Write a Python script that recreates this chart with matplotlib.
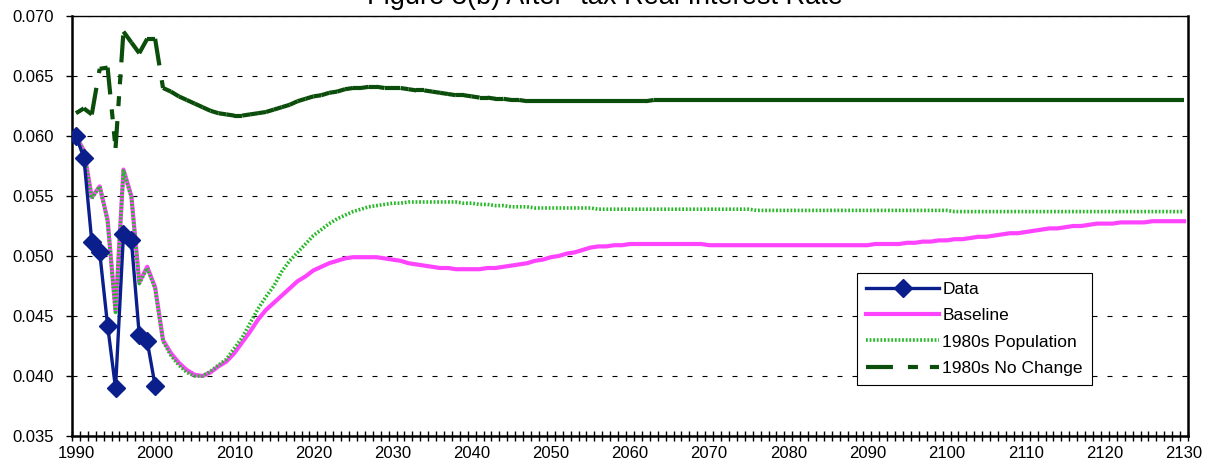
import numpy as np
import matplotlib
matplotlib.use('Agg')
import matplotlib.pyplot as plt
from matplotlib.lines import Line2D

plt.rcParams['font.family'] = ['Liberation Sans', 'DejaVu Sans']
plt.rcParams['lines.scale_dashes'] = False

# years on the category axis
years = list(range(1990, 2131))
tick_years = list(range(1990, 2131, 10))

# observed data 1990-2000
data_years = list(range(1990, 2001))
data_vals = [0.0600, 0.0582, 0.0512, 0.0503, 0.0442, 0.0390, 0.0518, 0.0513,
             0.0434, 0.0429, 0.0392]

baseline = [
    0.0600, 0.0588, 0.0549, 0.0558, 0.0530, 0.0454, 0.0572, 0.0550, 0.0478, 0.0491,  # 1990-1999
    0.0474, 0.0430, 0.0419, 0.0411, 0.0405, 0.0401, 0.0400, 0.0403, 0.0408, 0.0412,  # 2000-2009
    0.0419, 0.0428, 0.0437, 0.0447, 0.0455, 0.0461, 0.0467, 0.0473, 0.0479, 0.0483,  # 2010-2019
    0.0488, 0.0491, 0.0494, 0.0496, 0.0498, 0.0499, 0.0499, 0.0499, 0.0499, 0.0498,  # 2020-2029
    0.0497, 0.0496, 0.0494, 0.0493, 0.0492, 0.0491, 0.0490, 0.0490, 0.0489, 0.0489,  # 2030-2039
    0.0489, 0.0489, 0.0490, 0.0490, 0.0491, 0.0492, 0.0493, 0.0494, 0.0496, 0.0497,  # 2040-2049
    0.0499, 0.0500, 0.0502, 0.0503, 0.0505, 0.0507, 0.0508, 0.0508, 0.0509, 0.0509,  # 2050-2059
    0.0510, 0.0510, 0.0510, 0.0510, 0.0510, 0.0510, 0.0510, 0.0510, 0.0510, 0.0510,  # 2060-2069
    0.0509, 0.0509, 0.0509, 0.0509, 0.0509, 0.0509, 0.0509, 0.0509, 0.0509, 0.0509,  # 2070-2079
    0.0509, 0.0509, 0.0509, 0.0509, 0.0509, 0.0509, 0.0509, 0.0509, 0.0509, 0.0509,  # 2080-2089
    0.0509, 0.0510, 0.0510, 0.0510, 0.0510, 0.0511, 0.0511, 0.0512, 0.0512, 0.0513,  # 2090-2099
    0.0513, 0.0514, 0.0514, 0.0515, 0.0516, 0.0516, 0.0517, 0.0518, 0.0519, 0.0519,  # 2100-2109
    0.0520, 0.0521, 0.0522, 0.0523, 0.0523, 0.0524, 0.0525, 0.0525, 0.0526, 0.0527,  # 2110-2119
    0.0527, 0.0527, 0.0528, 0.0528, 0.0528, 0.0528, 0.0529, 0.0529, 0.0529, 0.0529,  # 2120-2129
    0.0529,                                                                          # 2130
]

pop_1980s = [
    0.0600, 0.0587, 0.0548, 0.0558, 0.0529, 0.0453, 0.0571, 0.0549, 0.0477, 0.0490,  # 1990-1999
    0.0473, 0.0429, 0.0417, 0.0409, 0.0403, 0.0400, 0.0400, 0.0404, 0.0409, 0.0414,  # 2000-2009
    0.0423, 0.0432, 0.0444, 0.0456, 0.0466, 0.0475, 0.0487, 0.0496, 0.0503, 0.0510,  # 2010-2019
    0.0517, 0.0522, 0.0527, 0.0531, 0.0534, 0.0537, 0.0539, 0.0541, 0.0542, 0.0543,  # 2020-2029
    0.0544, 0.0544, 0.0545, 0.0545, 0.0545, 0.0545, 0.0545, 0.0545, 0.0545, 0.0544,  # 2030-2039
    0.0544, 0.0543, 0.0543, 0.0542, 0.0542, 0.0541, 0.0541, 0.0541, 0.0540, 0.0540,  # 2040-2049
    0.0540, 0.0540, 0.0540, 0.0540, 0.0540, 0.0540, 0.0539, 0.0539, 0.0539, 0.0539,  # 2050-2059
    0.0539, 0.0539, 0.0539, 0.0539, 0.0539, 0.0539, 0.0539, 0.0539, 0.0539, 0.0539,  # 2060-2069
    0.0539, 0.0539, 0.0539, 0.0539, 0.0539, 0.0539, 0.0538, 0.0538, 0.0538, 0.0538,  # 2070-2079
    0.0538, 0.0538, 0.0538, 0.0538, 0.0538, 0.0538, 0.0538, 0.0538, 0.0538, 0.0538,  # 2080-2089
    0.0538, 0.0538, 0.0538, 0.0538, 0.0538, 0.0538, 0.0538, 0.0538, 0.0538, 0.0538,  # 2090-2099
    0.0538, 0.0537, 0.0537, 0.0537, 0.0537, 0.0537, 0.0537, 0.0537, 0.0537, 0.0537,  # 2100-2109
    0.0537, 0.0537, 0.0537, 0.0537, 0.0537, 0.0537, 0.0537, 0.0537, 0.0537, 0.0537,  # 2110-2119
    0.0537, 0.0537, 0.0537, 0.0537, 0.0537, 0.0537, 0.0537, 0.0537, 0.0537, 0.0537,  # 2120-2129
    0.0537,                                                                          # 2130
]

no_change_1980s = [
    0.0619, 0.0623, 0.0618, 0.0656, 0.0657, 0.0590, 0.0687, 0.0678, 0.0669, 0.0681,  # 1990-1999
    0.0681, 0.0640, 0.0637, 0.0633, 0.0630, 0.0627, 0.0624, 0.0621, 0.0619, 0.0618,  # 2000-2009
    0.0617, 0.0617, 0.0618, 0.0619, 0.0620, 0.0622, 0.0624, 0.0626, 0.0629, 0.0631,  # 2010-2019
    0.0633, 0.0634, 0.0636, 0.0637, 0.0639, 0.0640, 0.0640, 0.0641, 0.0641, 0.0640,  # 2020-2029
    0.0640, 0.0640, 0.0639, 0.0638, 0.0638, 0.0637, 0.0636, 0.0635, 0.0634, 0.0634,  # 2030-2039
    0.0633, 0.0632, 0.0632, 0.0631, 0.0631, 0.0630, 0.0630, 0.0629, 0.0629, 0.0629,  # 2040-2049
    0.0629, 0.0629, 0.0629, 0.0629, 0.0629, 0.0629, 0.0629, 0.0629, 0.0629, 0.0629,  # 2050-2059
    0.0629, 0.0629, 0.0629, 0.0630, 0.0630, 0.0630, 0.0630, 0.0630, 0.0630, 0.0630,  # 2060-2069
    0.0630, 0.0630, 0.0630, 0.0630, 0.0630, 0.0630, 0.0630, 0.0630, 0.0630, 0.0630,  # 2070-2079
    0.0630, 0.0630, 0.0630, 0.0630, 0.0630, 0.0630, 0.0630, 0.0630, 0.0630, 0.0630,  # 2080-2089
    0.0630, 0.0630, 0.0630, 0.0630, 0.0630, 0.0630, 0.0630, 0.0630, 0.0630, 0.0630,  # 2090-2099
    0.0630, 0.0630, 0.0630, 0.0630, 0.0630, 0.0630, 0.0630, 0.0630, 0.0630, 0.0630,  # 2100-2109
    0.0630, 0.0630, 0.0630, 0.0630, 0.0630, 0.0630, 0.0630, 0.0630, 0.0630, 0.0630,  # 2110-2119
    0.0630, 0.0630, 0.0630, 0.0630, 0.0630, 0.0630, 0.0630, 0.0630, 0.0630, 0.0630,  # 2120-2129
    0.0630,                                                                          # 2130
]

navy = '#0A1E8C'
pink = '#FF44FF'
green = '#27B827'
dkgreen = '#0B4D0B'
long_dash = (0, (19.4, 10.8, 7.2, 8.6, 7.2, 8.6))
dots = (0, (1.3, 1.3))

fig = plt.figure(figsize=(12.09, 4.75), dpi=100)
ax = fig.add_axes([72 / 1209, 39 / 475, 1116 / 1209, 420 / 475])

ax.plot(years, baseline, color=pink, lw=3.0, zorder=3)
ax.plot(years, pop_1980s, color=green, lw=2.6, ls=dots, zorder=4)

# Excel restarts the dash pattern on every segment, so draw them one by one
for i in range(len(years) - 1):
    ax.plot(years[i:i + 2], no_change_1980s[i:i + 2], color=dkgreen, lw=3.0,
            ls=long_dash, zorder=5)

ax.plot(data_years, data_vals, color=navy, lw=2.4, marker='D', markersize=9,
        markerfacecolor=navy, markeredgecolor=navy, zorder=6)

# axes
ax.set_xlim(1989.5, 2130.5)
ax.set_ylim(0.035, 0.070)
ax.set_xticks(tick_years)
ax.set_xticklabels([str(y) for y in tick_years])
ax.set_xticks(np.arange(1989.5, 2131, 1), minor=True)
ax.tick_params(axis='x', which='major', length=0, pad=7, labelsize=12)
ax.tick_params(axis='x', which='minor', direction='inout', length=6.5, width=1)
ax.set_yticks(np.arange(0.035, 0.0701, 0.005))
ax.set_yticklabels(['%.3f' % v for v in np.arange(0.035, 0.0701, 0.005)])
ax.tick_params(axis='y', direction='out', length=4.3, width=1, pad=9, labelsize=12)
ax.yaxis.grid(True, color='black', lw=0.8, ls=(0, (3.6, 7.2)))
ax.set_axisbelow(True)
for side in ['left', 'bottom', 'right']:
    ax.spines[side].set_linewidth(1.8)
ax.spines['top'].set_linewidth(1.0)

fig.text(0.5, 1 - 3.5 / 475, 'Figure 3(b) After- tax Real Interest Rate',
         ha='center', va='baseline', fontsize=19.5)

handles = [
    Line2D([], [], color=navy, lw=2.4, marker='D', markersize=9),
    Line2D([], [], color=pink, lw=3.0),
    Line2D([], [], color=green, lw=2.6, ls=dots),
    Line2D([], [], color=dkgreen, lw=3.0, ls=long_dash),
]
labels = ['Data', 'Baseline', '1980s Population', '1980s No Change']
leg = ax.legend(handles, labels, loc='upper left', bbox_to_anchor=(0.7034, 0.388),
                borderaxespad=0, fontsize=12.5, handlelength=4.25, handletextpad=0.17,
                labelspacing=0.645, borderpad=0.5, numpoints=1, fancybox=False,
                framealpha=1, edgecolor='black')
leg.get_frame().set_linewidth(0.8)

plt.savefig('out.png', dpi=100)
